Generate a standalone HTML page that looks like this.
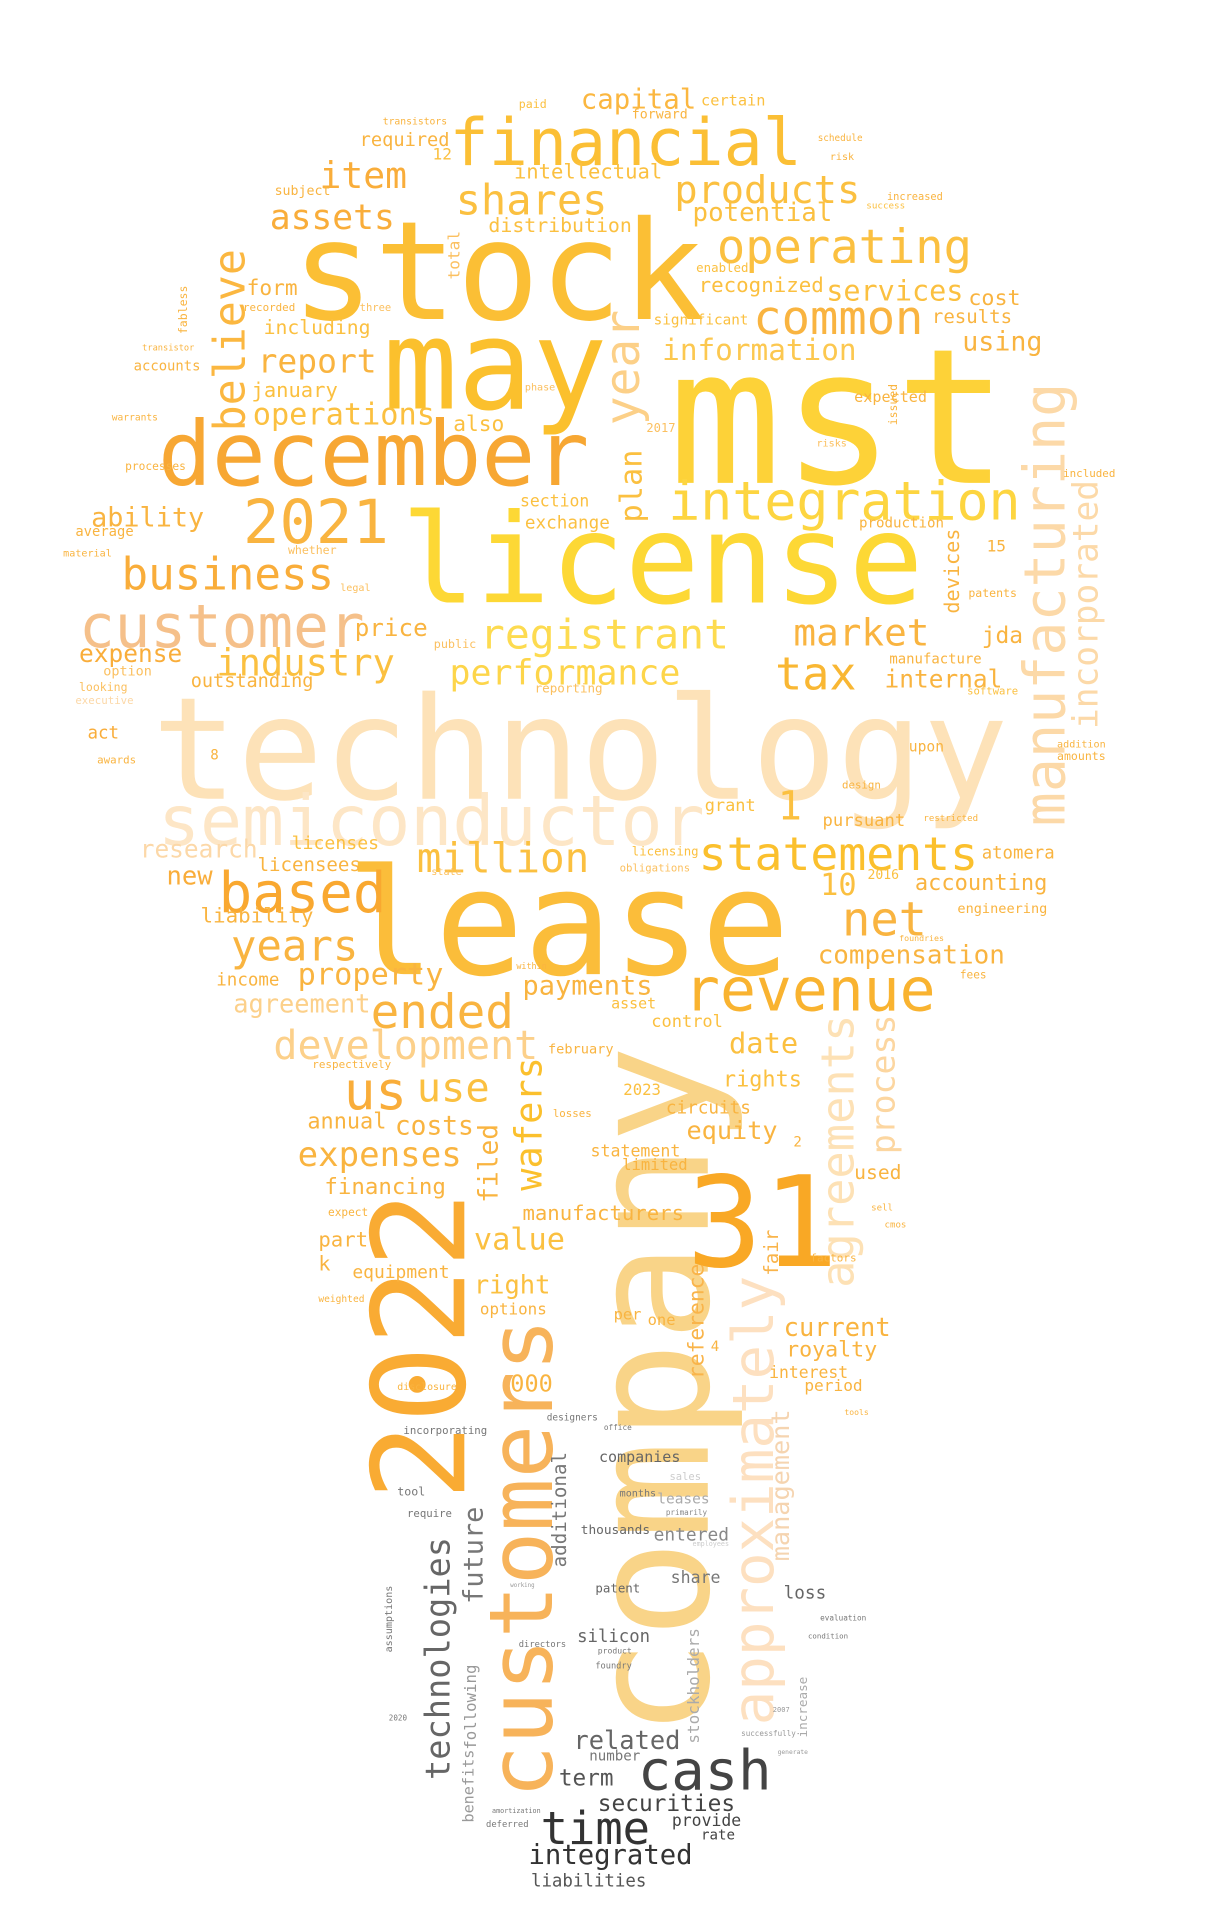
<!DOCTYPE html>
<html><head><meta charset="utf-8"><style>
html,body{margin:0;padding:0;background:#fff;}
svg{display:block;}
text{font-family:"DejaVu Sans Mono","Liberation Mono",monospace;}
</style></head><body>
<svg id="cloud" width="1215" height="1920" viewBox="0 0 1000 1580.2" xmlns="http://www.w3.org/2000/svg"></svg>
<script>
const O="#f9a92f",Y="#fdd835",YO="#fbbf35",P="#fde2b8",PL="#fbd49a",LO="#f7b35a",D="#444",G="#777",LG="#aaa";
// word, box x1,y1,x2,y2 (view units), color, vertical
const words=[
["stock",240,170,580,265,YO,0],["mst",550,270,830,400,"#fdd238",0],["may",315,255,500,335,"#fbc02d",0],
["december",130,330,485,410,"#f7a733",0],["license",330,410,760,500,Y,0],["technology",125,555,830,665,P,0],
["semiconductor",130,645,580,700,"#fde6c6",0],["lease",285,695,650,810,"#fbbd3a",0],["financial",370,85,660,145,YO,0],
["company",455,860,600,1430,"#f9d488",1],["customers",400,1085,450,1480,LO,1],["2022",300,980,380,1235,"#f9ab33",1],
["31",565,960,690,1040,"#f9a825",0],["approximately",595,1050,640,1420,"#fde0c0",1],["agreements",670,835,705,1060,"#fde1b5",1],
["manufacturing",835,315,880,680,"#fcd9a8",1],["incorporated",880,395,905,600,"#fcd9a8",1],
["cash",525,1435,635,1475,D,0],["time",445,1485,535,1520,"#333",0],["integrated",435,1515,570,1537,"#333",0],
["liabilities",437,1540,532,1555,"#555",0],["securities",492,1475,605,1492,D,0],["provide",553,1490,610,1505,D,0],
["rate",577,1505,605,1515,D,0],["term",460,1455,505,1470,"#555",0],["related",472,1422,560,1440,"#666",0],
["number",485,1440,527,1450,G,0],["technologies",348,1265,370,1465,"#666",1],["future",380,1240,398,1320,G,1],
["following",380,1370,393,1440,"#999",1],["benefits",380,1440,390,1500,"#999",1],["additional",452,1195,467,1290,G,1],
["stockholders",563,1340,577,1435,LG,1],["increase",655,1380,665,1430,LG,1],["management",632,1160,650,1285,"#f5d4b0",1],
["loss",645,1303,680,1318,"#666",0],["silicon",475,1338,535,1355,"#666",0],["patent",490,1300,527,1313,"#666",0],
["share",552,1290,593,1305,G,0],["entered",538,1255,600,1270,"#888",0],["leases",541,1227,584,1240,LG,0],
["thousands",478,1253,535,1265,"#666",0],["companies",493,1192,560,1205,"#666",0],["months",510,1225,540,1233,G,0],
["reference",565,1040,580,1135,"#f9b44a",1],["filed",393,925,410,990,"#f9b440",1],["wafers",422,870,445,980,"#fbc02d",1],
["process",715,835,735,950,"#fcd6a0",1],["devices",775,435,790,505,"#f9b440",1],["believe",175,205,200,355,"#fbb740",1],
["year",497,255,525,350,"#fcd088",1],["plan",510,370,527,430,"#fbc040",1],["total",366,190,380,230,"#fbc060",1],
["fair",628,1012,640,1050,"#f9b44a",1],["issued",729,316,740,350,"#f9b440",1],["assumptions",316,1305,324,1360,G,1],
["2021",200,405,320,450,"#f9b440",0],["customer",65,490,300,535,"#f5c08a",0],["business",100,455,275,487,"#f9ad3a",0],
["based",180,710,318,755,"#f9a830",0],["years",190,760,295,793,"#f9b440",0],["revenue",563,790,770,835,"#f9b330",0],
["statements",575,683,805,718,"#fbc02d",0],["integration",550,392,840,428,"#fdd540",0],["registrant",395,505,600,535,"#fddb50",0],
["performance",370,540,560,565,"#fdd54a",0],["tax",638,535,705,570,"#f9b733",0],["market",653,505,765,532,"#f9b440",0],
["operating",590,185,800,218,"#fbc040",0],["products",555,140,708,170,"#fbc040",0],["common",620,245,760,275,"#f9b440",0],
["information",545,275,705,298,"#fcc850",0],["shares",375,147,500,178,"#fbc040",0],["capital",478,70,573,92,"#fbb740",0],
["item",263,130,335,155,"#f9ad3a",0],["assets",222,165,325,190,"#f9ad3a",0],["potential",570,163,685,185,"#fbc040",0],
["services",680,228,793,248,"#fbc040",0],["intellectual",423,132,545,148,"#fbc040",0],["distribution",402,177,520,192,"#fbc040",0],
["recognized",575,225,678,242,"#fbc040",0],["report",212,283,310,308,"#f9b440",0],["operations",208,330,358,350,"#fbc040",0],
["industry",178,530,325,558,"#fbc040",0],["ability",75,415,168,435,"#f9b440",0],["million",343,690,485,718,"#fbc040",0],
["net",693,740,763,770,"#f9b440",0],["10",675,715,705,740,"#fbc040",0],["1",640,648,660,675,"#fbc040",0],
["ended",305,815,423,847,"#f9b440",0],["development",225,845,443,873,"#fcd08a",0],["us",283,880,335,912,"#f9ad3a",0],
["use",343,880,403,907,"#fbc040",0],["payments",430,800,537,820,"#f9b440",0],["compensation",673,775,827,795,"#f9b440",0],
["accounting",753,717,862,735,"#f9b440",0],["property",245,790,365,812,"#f9b440",0],["agreement",192,815,305,834,"#fcd08a",0],
["research",115,689,212,706,"#fcd8a8",0],["licensees",212,704,297,718,"#f9b440",0],["licenses",240,687,312,700,"#fbc040",0],
["new",137,712,175,728,"#f9ad3a",0],["liability",165,745,258,760,"#f9b440",0],["income",178,800,230,812,"#f9b440",0],
["expense",65,528,150,545,"#f9ad3a",0],["outstanding",157,553,258,567,"#f9b440",0],["option",85,547,125,558,"#fbc060",0],
["looking",65,560,105,570,"#fbc060",0],["price",292,508,352,523,"#f9b440",0],["date",600,848,657,866,"#fbc040",0],
["rights",595,880,660,896,"#fbc040",0],["equity",565,920,640,938,"#f9b440",0],["circuits",548,905,618,918,"#f9b440",0],
["statement",486,940,560,953,"#f9b440",0],["limited",512,952,566,964,"#f9b440",0],["control",536,833,595,848,"#fbc040",0],
["expenses",245,935,380,963,"#f9b440",0],["costs",325,917,390,935,"#f9b440",0],["annual",253,915,318,930,"#f9b440",0],
["financing",267,967,367,985,"#f9b440",0],["manufacturers",430,990,563,1005,"#f9b440",0],["value",390,1008,465,1030,"#fbc040",0],
["right",390,1045,453,1067,"#fbc040",0],["options",395,1070,450,1083,"#f9b440",0],["000",420,1130,455,1145,"#f9b440",0],
["part",262,1012,303,1026,"#f9b440",0],["k",262,1033,272,1045,"#f9b440",0],["equipment",290,1040,370,1053,"#f9b440",0],
["current",645,1082,733,1100,"#f9b440",0],["royalty",647,1102,722,1118,"#f9b440",0],["interest",633,1123,698,1135,"#f9b440",0],
["period",662,1133,710,1146,"#f9b440",0],["used",703,957,742,971,"#f9b440",0],["grant",580,655,622,668,"#fbc040",0],
["pursuant",677,668,745,682,"#f9b440",0],["licensing",520,693,575,707,"#fbc040",0],["atomera",808,695,868,708,"#f9b440",0],
["engineering",788,742,862,753,"#f9b440",0],["internal",728,548,825,567,"#f9b440",0],["jda",808,515,842,530,"#f9b440",0],
["cost",797,237,840,252,"#f9b440",0],["results",767,253,833,267,"#f9b440",0],["using",792,270,858,290,"#f9b440",0],
["expected",703,320,763,332,"#f9b440",0],["also",373,340,415,355,"#fbc040",0],["section",428,405,485,418,"#fbc040",0],
["exchange",432,423,502,437,"#fbc040",0],["form",203,228,245,243,"#f9b440",0],["including",217,262,305,275,"#fbc040",0],
["january",207,313,278,327,"#fbc040",0],["required",296,108,370,121,"#f9b440",0],["certain",577,76,630,88,"#fbc040",0],
["forward",520,89,566,99,"#f9b440",0],["enabled",573,214,616,225,"#fbc040",0],["significant",538,258,616,268,"#fbc040",0],
["production",707,425,777,435,"#f9b440",0],["15",812,443,828,454,"#f9b440",0],["manufacture",732,537,808,547,"#f9b440",0],
["software",796,564,838,573,"#fbc040",0],["upon",748,609,777,619,"#f9b440",0],["design",693,641,725,650,"#f9b440",0],
["2016",714,715,740,725,"#fbc040",0],["2023",513,890,544,902,"#fbc040",0],["february",451,857,505,869,"#f9b440",0],
["accounts",110,296,165,306,"#f9b440",0],["average",62,432,110,442,"#f9b440",0],["act",72,597,98,609,"#f9ad3a",0],
["processes",103,379,153,388,"#f9b440",0],["respectively",257,871,322,880,"#f9b440",0],["incorporating",332,1172,401,1182,G,0],
["disclosure",327,1137,376,1146,"#f9b440",0],["tool",327,1222,350,1232,G,0],["require",335,1240,372,1250,G,0],
["weighted",262,1065,300,1073,"#f9b440",0],["expect",270,993,303,1002,"#f9b440",0],["per",505,1075,528,1087,"#f9b440",0],
["one",533,1080,556,1091,"#f9b440",0],["4",585,1102,592,1114,"#f9b440",0],["2",653,934,660,945,"#f9b440",0],
["8",173,615,180,627,"#f9b440",0],["12",356,120,372,132,"#fbc040",0],["fees",790,797,812,807,"#f9b440",0],
["foundries",740,767,777,776,"#f9b440",0],["addition",870,608,910,617,"#f9b440",0],["amounts",870,617,910,626,"#f9b440",0],
["included",875,385,918,393,"#f9b440",0],["patents",797,483,837,492,"#f9b440",0],["schedule",673,109,710,118,"#f9b440",0],
["risk",683,124,703,134,"#f9b440",0],["increased",730,157,776,166,"#f9b440",0],["success",713,165,745,173,"#fbc040",0],
["sell",717,990,735,998,"#f9b440",0],["cmos",728,1004,746,1012,"#f9b440",0],["tools",695,1158,715,1166,"#f9b440",0],
["factors",667,1030,705,1040,"#f9b440",0],["designers",450,1163,492,1170,G,0],["office",497,1171,520,1178,G,0],
["product",492,1355,520,1362,G,0],["foundry",490,1367,520,1375,G,0],["directors",427,1350,466,1357,G,0],
["evaluation",675,1328,713,1335,G,0],["condition",665,1342,698,1350,G,0],["successfully",610,1423,655,1430,"#999",0],
["2007",636,1403,650,1410,"#999",0],["generate",640,1439,665,1445,"#999",0],["amortization",405,1487,445,1493,G,0],
["deferred",400,1498,435,1505,G,0],["2020",320,1410,335,1417,G,0],["working",420,1302,440,1308,"#999",0],
["sales",551,1210,577,1220,"#ccc",0],["employees",570,1267,600,1274,"#ccc",0],["primarily",548,1240,582,1249,"#888",0],
["asset",503,820,540,830,"#fbc040",0],["transistors",315,96,368,104,"#f9b440",0],["subject",226,152,272,162,"#f9b440",0],
["recorded",200,248,243,257,"#f9b440",0],["fabless",145,235,155,275,"#f9b440",1],["transistor",117,283,160,290,"#f9b440",0],
["warrants",92,340,130,347,"#f9b440",0],["material",52,452,92,459,"#f9b440",0],["whether",237,448,277,456,"#fbc060",0],
["legal",280,480,305,488,"#fbc060",0],["public",357,525,392,534,"#fbc060",0],["reporting",440,561,496,570,"#fbc060",0],
["state",355,714,380,721,"#fbc060",0],["obligations",510,710,568,718,"#fbc060",0],["within",425,791,450,798,"#f9b440",0],
["losses",455,912,487,920,"#f9b440",0],["phase",432,315,457,323,"#fbc060",0],["paid",427,81,450,89,"#fbc040",0],
["three",296,249,322,257,"#fbc060",0],["2017",532,347,556,356,"#fbc060",0],["risks",672,361,697,369,"#fbc060",0],
["executive",62,572,110,580,"#fcd8a8",0],["awards",80,621,112,629,"#f9b440",0],["restricted",760,670,805,677,"#f9b440",0]
];
const svg=document.getElementById('cloud');
const NS="http://www.w3.org/2000/svg";
words.forEach(w=>{
  const [txt,x1,y1,x2,y2,col,vert]=w;
  const n=txt.length;
  const len=vert?(y2-y1):(x2-x1);
  const fs=len/(n*0.602);
  let cx=(x1+x2)/2, cy=(y1+y2)/2;
  if(vert) cx+=0.06*fs; else cy+=0.06*fs;
  const t=document.createElementNS(NS,'text');
  
  
  t.setAttribute('x',cx);
  t.setAttribute('y',cy);
  t.setAttribute('text-anchor','middle');
  t.setAttribute('dominant-baseline','central');
  t.setAttribute('font-size',fs.toFixed(2));
  t.setAttribute('fill',col);
  t.setAttribute('textLength',len);
  t.setAttribute('lengthAdjust','spacingAndGlyphs');
  if(vert) t.setAttribute('transform','rotate(-90 '+cx+' '+cy+')');
  t.textContent=txt;
  svg.appendChild(t);
});
</script>
</body></html>
